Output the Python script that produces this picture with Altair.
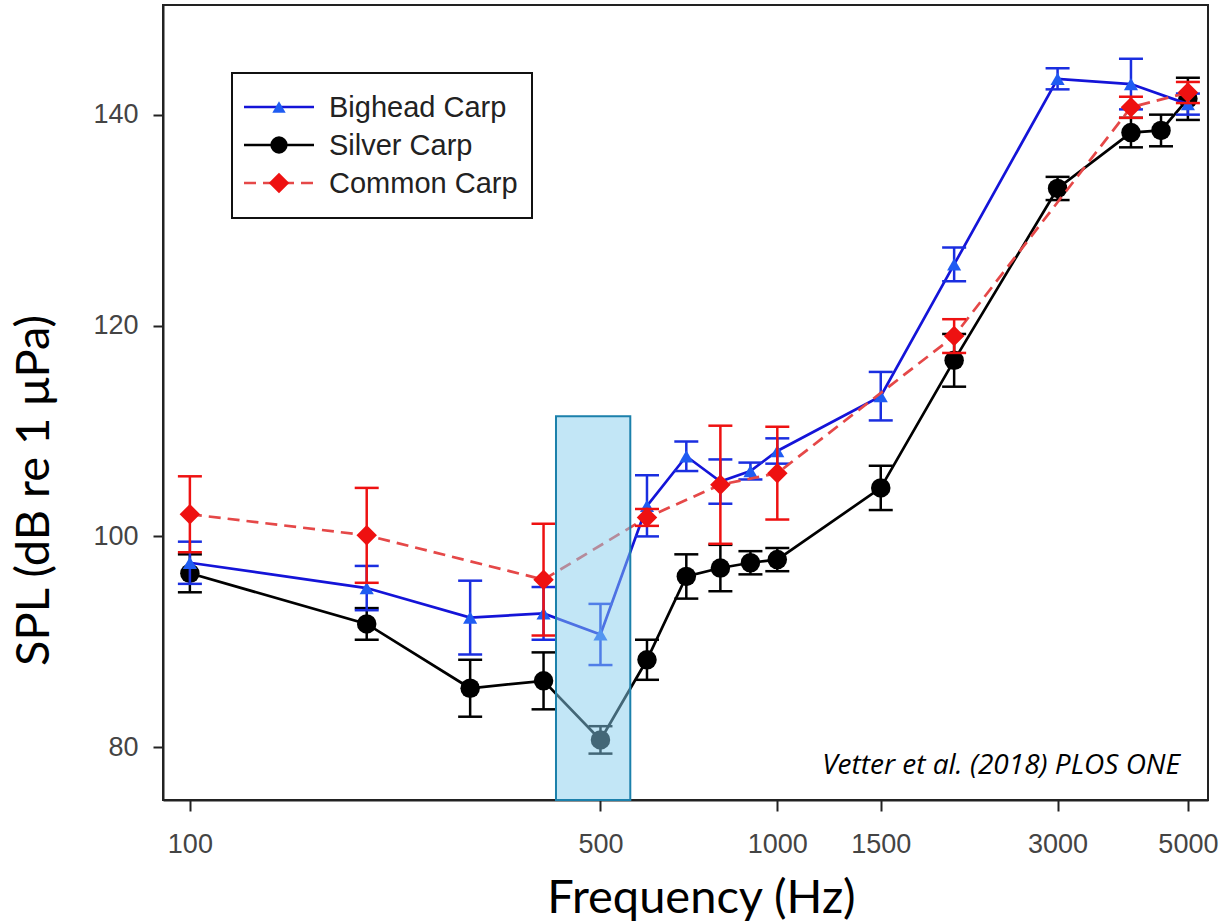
import altair as alt
import pandas as pd

# ---- data ----
freq_bighead = [100, 200, 300, 400, 500, 600, 700, 800, 900, 1000, 1500, 2000, 3000, 4000, 5000]
spl_bighead = [97.5, 95.1, 92.3, 92.7, 90.7, 102.9, 107.6, 105.2, 106.2, 108.1, 113.3, 125.8, 143.4, 142.9, 141.0]
err_bighead = [2.0, 2.1, 3.5, 2.5, 2.9, 2.9, 1.4, 2.1, 0.8, 1.2, 2.3, 1.6, 1.0, 2.4, 1.0]

freq_silver = [100, 200, 300, 400, 500, 600, 700, 800, 900, 1000, 1500, 2000, 3000, 4000, 4500, 5000]
spl_silver = [96.5, 91.7, 85.6, 86.3, 80.7, 88.3, 96.2, 97.0, 97.5, 97.8, 104.6, 116.7, 133.0, 138.3, 138.5, 141.5]
err_silver = [1.8, 1.5, 2.7, 2.7, 1.3, 1.9, 2.1, 2.2, 1.1, 1.1, 2.1, 2.5, 1.1, 1.4, 1.5, 2.0]

freq_common = [100, 200, 400, 600, 800, 1000, 2000, 4000, 5000]
spl_common = [102.1, 100.1, 95.9, 101.8, 104.9, 106.0, 119.0, 140.7, 142.1]
err_common = [3.6, 4.5, 5.3, 0.8, 5.6, 4.4, 1.6, 1.0, 1.0]

highlight_freq = [420, 562]
highlight_spl = [75, 111.4]

x_ticks = [100, 500, 1000, 1500, 3000, 5000]
y_ticks = [80, 100, 120, 140]

legend_names = ["Bighead Carp", "Silver Carp", "Common Carp"]
credit = "Vetter et al. (2018) PLOS ONE"


def frame(freq, spl, err):
    return pd.DataFrame({
        "freq": freq,
        "spl": spl,
        "lo": [m - e for m, e in zip(spl, err)],
        "hi": [m + e for m, e in zip(spl, err)],
    })


W, H = 1045, 795

xscale = alt.Scale(type="log", domain=[90, 5410], nice=False)
yscale = alt.Scale(domain=[75, 150.4], nice=False, zero=False)

xaxis = alt.Axis(values=x_ticks, format="d", grid=False, tickSize=11, tickWidth=2,
                 tickColor="#222", domainColor="#222", domainWidth=2,
                 labelFont="Liberation Sans", labelFontSize=27, labelColor="#444",
                 labelPadding=20, title="Frequency (Hz)", titleFont="Lato",
                 titleFontSize=47, titleFontWeight="normal", titleColor="black",
                 titleX=538, titleY=112, titleBaseline="alphabetic", titleAlign="center")
yaxis = alt.Axis(values=y_ticks, grid=False, tickSize=10, tickWidth=2,
                 tickColor="#222", domainColor="#222", domainWidth=2,
                 labelFont="Liberation Sans", labelFontSize=27, labelColor="#444",
                 labelPadding=15, title="SPL (dB re 1 μPa)", titleFont="Lato",
                 titleFontSize=47, titleFontWeight="normal", titleColor="black",
                 titleX=-115, titleY=485, titleAngle=-90, titleBaseline="alphabetic",
                 titleAlign="center")

X = alt.X("freq:Q", scale=xscale, axis=xaxis)


def series(df, line_color, bar_color, mark_color, shape, size, dash=None):
    base = alt.Chart(df)
    line_kw = dict(color=line_color, strokeWidth=2.7)
    if dash:
        line_kw["strokeDash"] = dash
    line = base.mark_line(**line_kw).encode(x=X, y=alt.Y("spl:Q", scale=yscale, axis=yaxis))
    bar = base.mark_rule(color=bar_color, strokeWidth=2.5).encode(
        x=X, y=alt.Y("lo:Q", scale=yscale, axis=yaxis), y2="hi:Q")
    cap_hi = base.mark_rule(color=bar_color, strokeWidth=2.5, xOffset=-12, x2Offset=12).encode(
        x=X, x2="freq:Q", y=alt.Y("hi:Q", scale=yscale, axis=yaxis))
    cap_lo = base.mark_rule(color=bar_color, strokeWidth=2.5, xOffset=-12, x2Offset=12).encode(
        x=X, x2="freq:Q", y=alt.Y("lo:Q", scale=yscale, axis=yaxis))
    pts = base.mark_point(shape=shape, filled=True, size=size, color=mark_color, opacity=1).encode(
        x=X, y=alt.Y("spl:Q", scale=yscale, axis=yaxis))
    return [line, bar, cap_hi, cap_lo, pts]


BLUE_LINE = "#1414d8"
BLUE_BAR = "#1a2ee0"
BLUE_MARK = "#1f5cf2"
RED_LINE = "#e54848"
RED_MARK = "#ee1111"

silver = series(frame(freq_silver, spl_silver, err_silver), "black", "black", "black", "circle", 380)
bighead = series(frame(freq_bighead, spl_bighead, err_bighead), BLUE_LINE, BLUE_BAR, BLUE_MARK,
                 "triangle-up", 200)
common = series(frame(freq_common, spl_common, err_common), RED_LINE, RED_MARK, RED_MARK,
                "diamond", 420, dash=[12, 7])

hl_df = pd.DataFrame({"x1": [highlight_freq[0]], "x2": [highlight_freq[1]],
                      "y1": [highlight_spl[0]], "y2": [highlight_spl[1]]})
highlight = alt.Chart(hl_df).mark_rect(fill="#86cdee", fillOpacity=0.5, stroke="#1b80ab",
                                       strokeWidth=2).encode(
    x=alt.X("x1:Q", scale=xscale, axis=xaxis), x2="x2:Q",
    y=alt.Y("y1:Q", scale=yscale, axis=yaxis), y2="y2:Q")

# ---- manual legend (pixel positions inside plot area) ----
one = pd.DataFrame({"a": [0]})
LX0, LY0 = 232 - 163, 73 - 5
legend_box = alt.Chart(one).mark_rect(fill="white", stroke="#111", strokeWidth=2).encode(
    x=alt.value(LX0), x2=alt.value(LX0 + 300), y=alt.value(LY0), y2=alt.value(LY0 + 145))
rows_y = [107 - 5, 145 - 5, 183 - 5]
leg_layers = [legend_box]
specs = [(BLUE_LINE, BLUE_MARK, "triangle-up", 180, None),
         ("black", "black", "circle", 300, None),
         (RED_LINE, RED_MARK, "diamond", 420, [12, 7])]
for (lc, mc, shp, sz, dash), ry, name in zip(specs, rows_y, legend_names):
    rk = dict(color=lc, strokeWidth=2.5)
    if dash:
        rk["strokeDash"] = dash
    leg_layers.append(alt.Chart(one).mark_rule(**rk).encode(
        x=alt.value(244 - 163), x2=alt.value(314 - 163), y=alt.value(ry)))
    leg_layers.append(alt.Chart(one).mark_point(shape=shp, filled=True, size=sz, color=mc, opacity=1).encode(
        x=alt.value(279 - 163), y=alt.value(ry)))
    leg_layers.append(alt.Chart(one).mark_text(text=name, font="Liberation Sans", fontSize=29,
                                               color="#222", align="left", baseline="alphabetic").encode(
        x=alt.value(329 - 163), y=alt.value(ry + 10)))

credit_text = alt.Chart(one).mark_text(text=credit, font="Open Sans", fontStyle="italic", fontSize=28,
                                       color="black", align="right",
                                       baseline="alphabetic").encode(
    x=alt.value(1180 - 163), y=alt.value(774 - 5))

chart = alt.layer(
    *silver, *bighead, *common, highlight, *leg_layers, credit_text
).properties(
    width=W, height=H,
    padding={"left": 163, "top": 5, "right": 1224 - 163 - W, "bottom": 923 - 5 - H},
    autosize=alt.AutoSizeParams(type="none"),
    background="white",
).configure_view(stroke="#222", strokeWidth=2)

chart.save("out.html", embed_options={"renderer": "svg", "actions": False})
